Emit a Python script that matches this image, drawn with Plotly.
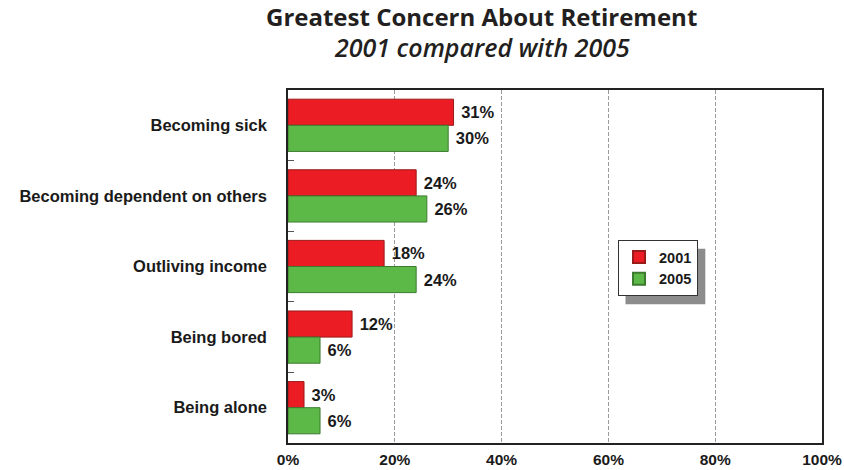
import plotly.graph_objects as go

# Survey data: share of respondents naming each item as their greatest concern
concerns = [
    "Becoming sick",
    "Becoming dependent on others",
    "Outliving income",
    "Being bored",
    "Being alone",
]
share_2001 = [31, 24, 18, 12, 3]
share_2005 = [30, 26, 24, 6, 6]
x_ticks = [0, 20, 40, 60, 80, 100]
x_tick_labels = ["0%", "20%", "40%", "60%", "80%", "100%"]

RED = "#EC1C24"
GREEN = "#5DB947"
label_font = dict(family="Liberation Sans, Arial, sans-serif", size=14,
                  color="#1a1a1a", weight="bold")

fig = go.Figure()
fig.add_trace(go.Bar(
    name="2001", y=concerns, x=share_2001, orientation="h",
    marker=dict(color=RED, line=dict(color="#9a1a1a", width=1)),
    texttemplate=" %{x}%", textposition="outside",
    textfont=dict(label_font, size=16.5), cliponaxis=False,
))
fig.add_trace(go.Bar(
    name="2005", y=concerns, x=share_2005, orientation="h",
    marker=dict(color=GREEN, line=dict(color="#3c7a30", width=1)),
    texttemplate=" %{x}%", textposition="outside",
    textfont=dict(label_font, size=16.5), cliponaxis=False,
))

# Drop shadow behind the legend box
fig.add_shape(type="rect", xref="paper", yref="paper",
              x0=0.632, x1=0.7815, y0=0.393, y1=0.55,
              fillcolor="#8c8c8c", line=dict(width=0), layer="above")

# Two-line heading
title_font = dict(family="Open Sans, sans-serif", size=24, color="#231F20")
fig.add_annotation(text="Greatest Concern About Retirement", xref="paper", yref="paper",
                   x=0.363, y=1.207, xanchor="center", yanchor="middle",
                   showarrow=False, font=dict(title_font, weight="bold"))
fig.add_annotation(text="<i>2001 compared with 2005</i>", xref="paper", yref="paper",
                   x=0.363, y=1.122, xanchor="center", yanchor="middle",
                   showarrow=False, font=dict(title_font, size=25, weight=600))

fig.update_layout(
    width=844, height=470,
    margin=dict(l=288, r=22, t=90, b=27),
    paper_bgcolor="white", plot_bgcolor="white",
    barmode="group", bargap=0.26, bargroupgap=0,
    legend=dict(
        x=0.618, y=0.575, xanchor="left", yanchor="top",
        bgcolor="white", bordercolor="#333333", borderwidth=1,
        font=dict(label_font, size=14.5), itemsizing="constant", traceorder="normal",
        itemwidth=30,
    ),
    showlegend=True,
    xaxis=dict(
        range=[0, 100], tickvals=x_ticks, ticktext=x_tick_labels,
        showgrid=True, gridcolor="#9a9a9a", griddash="4px,2px", gridwidth=1,
        showline=True, linecolor="#222222", linewidth=1.5, mirror=True,
        zeroline=False, ticks="", ticklabelstandoff=2, automargin=False,
        tickfont=dict(label_font, size=15.5),
    ),
    yaxis=dict(
        autorange="reversed", showline=True, linecolor="#222222", linewidth=1.5,
        mirror=True, ticks="inside", tickson="boundaries", ticklen=6,
        tickcolor="#555555", showgrid=False, automargin=False,
        tickfont=dict(label_font, size=16.5), ticklabelstandoff=16,
        categoryorder="array", categoryarray=concerns,
    ),
)

fig.write_html("out.html")
